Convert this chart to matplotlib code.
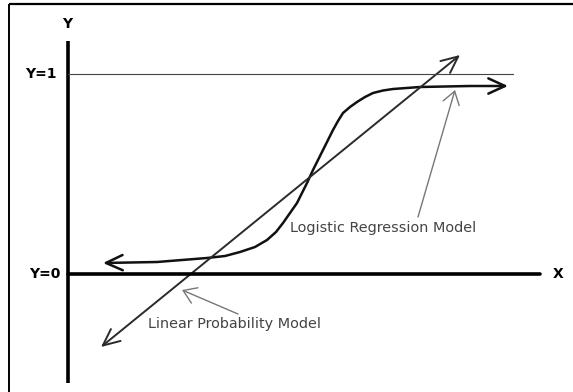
import matplotlib
matplotlib.use("Agg")
import matplotlib.pyplot as plt
from matplotlib.patches import FancyArrowPatch
from matplotlib.path import Path

# Logistic regression curve (X, P(Y=1))
logit_x = [0.175, 0.445, 0.695, 0.785, 0.86, 0.935, 0.995, 1.04, 1.075, 1.11, 1.145,
           1.195, 1.225, 1.275, 1.325, 1.35, 1.375, 1.41, 1.445, 1.485, 1.525,
           1.575, 1.625, 1.76, 2.01, 2.2]
logit_y = [0.055, 0.06, 0.08, 0.09, 0.11, 0.135, 0.17, 0.21, 0.255, 0.305, 0.355,
           0.455, 0.52, 0.62, 0.72, 0.765, 0.805, 0.835, 0.86, 0.885, 0.905,
           0.9175, 0.925, 0.935, 0.94, 0.94]

# Linear probability model line (end points)
lin_x = [0.165, 1.96]
lin_y = [-0.365, 1.095]

# Reference levels
y_levels = [0, 1]
level_labels = ["Y=0", "Y=1"]
hline_end = 2.225
xaxis_end = 2.36
yaxis_range = [-0.545, 1.165]

# Annotations: (text, text pos, arrow tail, arrow tip)
ann_logit = ("Logistic Regression Model", (1.11, 0.23), (1.75, 0.285), (1.935, 0.92))
ann_lin = ("Linear Probability Model", (0.40, -0.25), (0.85, -0.20), (0.57, -0.08))

W, H = 573, 392
fig = plt.figure(figsize=(W / 100, H / 100), dpi=100)
ax = fig.add_axes([0, 0, 1, 1])
scale = 200.0
x0_px, y0_px = 68, 274
ax.set_xlim(-x0_px / scale, (W - x0_px) / scale)
ax.set_ylim(-(H - y0_px) / scale, y0_px / scale)
ax.axis("off")

# frame (top and left edges visible)
ax.plot([-0.295, 3.0], [1.35, 1.35], color="black", lw=1.6, solid_capstyle="butt")
ax.plot([-0.295, -0.295], [1.35, -1.0], color="black", lw=1.4, solid_capstyle="butt")

# axes
ax.plot([0, 0], yaxis_range, color="black", lw=2.6, solid_capstyle="butt")
ax.plot([0, xaxis_end], [0, 0], color="black", lw=2.6, solid_capstyle="round")
ax.plot([0, hline_end], [1, 1], color="#444444", lw=0.8)

fs = 10
ax.text(-0.005, 1.25, "Y", ha="center", va="center", fontsize=fs, fontweight="bold",
        family="DejaVu Sans")
ax.text(2.45, 0, "X", ha="center", va="center", fontsize=fs, fontweight="bold",
        family="DejaVu Sans")
for lv, lab in zip(y_levels, level_labels):
    ax.text(-0.04 if lv == 0 else -0.055, lv, lab, ha="right", va="center",
            fontsize=fs, fontweight="bold", family="DejaVu Sans")

# logistic curve with arrows at both ends
pts = list(zip(logit_x, logit_y))
path = Path(pts)
ax.add_patch(FancyArrowPatch(path=path, arrowstyle="<->,head_length=12,head_width=5.5",
                             color="#111111", lw=1.8, mutation_scale=1,
                             joinstyle="round", capstyle="round"))

# linear probability line with arrows at both ends
ax.add_patch(FancyArrowPatch((lin_x[0], lin_y[0]), (lin_x[1], lin_y[1]),
                             arrowstyle="<->,head_length=12,head_width=5.5",
                             color="#2a2a2a", lw=1.4, mutation_scale=1,
                             shrinkA=0, shrinkB=0, capstyle="round"))

# annotations
for text, tpos, tail, tip in (ann_logit, ann_lin):
    ax.text(tpos[0], tpos[1], text, ha="left", va="center", fontsize=10.4,
            color="#444444", family="DejaVu Sans")
    ax.add_patch(FancyArrowPatch(tail, tip, arrowstyle="->,head_length=9,head_width=6",
                                 color="#777777", lw=1.0, mutation_scale=1,
                                 shrinkA=0, shrinkB=0))

fig.savefig("out.png", dpi=100)
